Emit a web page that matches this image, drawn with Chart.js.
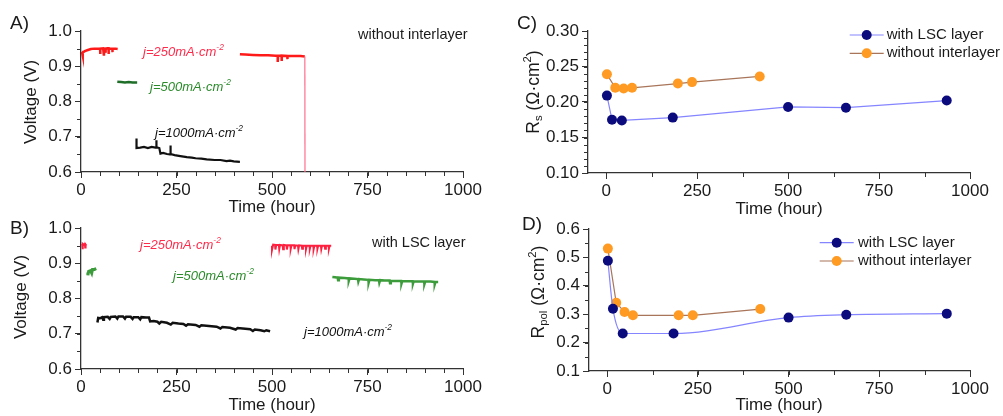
<!DOCTYPE html>
<html lang="en">
<head>
<meta charset="UTF-8">
<title>Voltage and resistance vs time</title>
<script src="https://cdn.jsdelivr.net/npm/chart.js"></script>
<style>
    body { margin: 0; background: #fff; }
    .wrap { position: relative; width: 1003px; height: 416px; overflow: hidden; }
    canvas { position: absolute; }
</style>
</head>
<body>
<div class="wrap">
    <canvas id="panelA" width="500" height="222" style="left:0;top:0"></canvas>
    <canvas id="panelB" width="500" height="211" style="left:0;top:205px"></canvas>
    <canvas id="panelC" width="503" height="222" style="left:500px;top:0"></canvas>
    <canvas id="panelD" width="503" height="211" style="left:500px;top:205px"></canvas>
</div>
<script>
// ---- data: [time (hour), value] ----
// A) without interlayer
const aRed250a = [[0,0.935],[3,0.938],[4,0.93],[5,0.939],[10,0.943],[18,0.946],[26,0.949],[35,0.950],[45,0.950],
    [50,0.950],[50,0.935],[51,0.950],[58,0.951],[60,0.951],[60,0.930],[61,0.950],[64,0.950],[64,0.938],[65,0.950],
    [70,0.951],[72,0.951],[72,0.935],[73,0.950],[80,0.950],[82,0.950],[82,0.940],[83,0.950],[90,0.950],[96,0.949]];
const aRed250b = [[416,0.934],[430,0.933],[450,0.932],[470,0.931],[490,0.931],[510,0.930],[515,0.930],[515,0.912],
    [516,0.930],[525,0.930],[525,0.915],[526,0.930],[540,0.929],[540,0.920],[541,0.929],[560,0.929],[575,0.929],[586,0.928]];
const aRedDrop = [[586,0.928],[587,0.0]];
const aGreen500 = [[95,0.856],[105,0.855],[115,0.854],[125,0.855],[135,0.854],[147,0.854]];
const aBlack1000 = [[144,0.668],[145,0.668],[145,0.695],[146,0.668],[155,0.669],[165,0.671],[175,0.668],[185,0.671],
    [195,0.669],[197,0.669],[197,0.690],[198,0.670],[205,0.668],[208,0.652],[215,0.654],[225,0.651],[233,0.650],
    [234,0.675],[235,0.651],[245,0.648],[260,0.645],[277,0.642],[290,0.641],[300,0.639],[315,0.638],[329,0.636],
    [350,0.634],[365,0.634],[381,0.631],[390,0.632],[400,0.630],[416,0.629]];

// B) with LSC layer
const bRed250a = [[3,0.955],[4,0.940],[5,0.955],[8,0.952],[10,0.957],[11,0.945],[12,0.953],[14,0.950]];
const bGreen500a = [[18,0.874],[18,0.866],[20,0.877],[25,0.879],[28,0.872],[30,0.882],[35,0.882],[38,0.884],[40,0.885]];
const bBlack1000 = [[43,0.732],[45,0.745],[50,0.744],[55,0.747],[58,0.740],[60,0.747],[70,0.748],[75,0.742],[78,0.748],
    [90,0.749],[95,0.743],[98,0.749],[110,0.749],[115,0.743],[118,0.748],[130,0.748],[135,0.742],[138,0.747],
    [150,0.747],[155,0.741],[158,0.747],[170,0.746],[178,0.746],[181,0.735],[190,0.736],[200,0.734],[205,0.729],
    [210,0.734],[225,0.731],[235,0.726],[240,0.731],[255,0.729],[268,0.728],[275,0.723],[280,0.727],[300,0.725],
    [310,0.720],[315,0.724],[335,0.722],[355,0.720],[365,0.715],[370,0.719],[390,0.717],[405,0.712],[410,0.716],
    [430,0.714],[443,0.713],[450,0.708],[455,0.712],[470,0.710],[480,0.707],[485,0.710],[495,0.707]];
const bRed250b = [[500,0.950],[500,0.938],[503,0.953],[508,0.952],[509,0.939],[511,0.952],[518,0.952],[519,0.940],
    [521,0.952],[528,0.951],[529,0.940],[531,0.952],[538,0.951],[539,0.939],[541,0.951],[548,0.951],[549,0.941],
    [551,0.951],[558,0.951],[559,0.940],[561,0.951],[568,0.950],[569,0.940],[571,0.951],[578,0.950],[579,0.941],
    [581,0.950],[588,0.950],[589,0.940],[591,0.950],[598,0.950],[599,0.941],[601,0.950],[608,0.950],[609,0.940],
    [611,0.950],[618,0.950],[619,0.941],[621,0.950],[628,0.950],[629,0.940],[631,0.950],[638,0.950],[639,0.941],
    [641,0.950],[648,0.950],[649,0.941],[651,0.950],[655,0.950]];
const bGreen500b = [[658,0.861],[665,0.860],[672,0.859],[673,0.852],[675,0.859],[690,0.858],[700,0.857],[701,0.850],
    [703,0.857],[715,0.856],[725,0.855],[726,0.848],[728,0.855],[740,0.854],[752,0.853],[753,0.845],[755,0.853],
    [770,0.852],[780,0.852],[781,0.845],[783,0.852],[795,0.851],[808,0.851],[809,0.843],[811,0.850],[825,0.850],
    [838,0.850],[839,0.842],[841,0.849],[855,0.849],[868,0.849],[869,0.842],[871,0.849],[885,0.848],[898,0.848],
    [899,0.841],[901,0.848],[915,0.848],[925,0.847],[926,0.840],[928,0.847],[935,0.847]];

// C) and D) impedance fits
const lscTime = [2, 16, 43, 183, 500, 659, 936];
const lscRs   = [0.209, 0.175, 0.174, 0.178, 0.193, 0.192, 0.202];
const lscRpol = [0.488, 0.319, 0.232, 0.232, 0.288, 0.298, 0.302];
const noTime  = [2, 25, 48, 71, 197, 236, 422];
const noRs    = [0.239, 0.220, 0.219, 0.220, 0.226, 0.228, 0.236];
const noRpol  = [0.531, 0.340, 0.308, 0.296, 0.296, 0.296, 0.318];

const xTicksAB = [0, 250, 500, 750, 1000];
const xTicksCD = [0, 250, 500, 750, 1000];

const FAM = '"Liberation Sans", Arial, sans-serif';
const pairs = arr => arr.map(p => ({x: p[0], y: p[1]}));
const zip = (xs, ys) => xs.map((x, i) => ({x: x, y: ys[i]}));
const plain = s => [{t: s}];
const jLabel = n => [{t: 'j=' + n + 'mA·cm'}, {t: '-2', s: 'sup'}];

function drawRich(ctx, it) {
    const st = it.style || 'normal';
    const fontFor = p => st + ' ' + (p.s ? it.size * 0.65 : it.size) + 'px ' + FAM;
    ctx.save();
    ctx.fillStyle = it.color || '#1a1a1a';
    ctx.textBaseline = 'middle';
    ctx.textAlign = 'left';
    let w = 0;
    it.parts.forEach(p => { ctx.font = fontFor(p); w += ctx.measureText(p.t).width; });
    ctx.translate(it.x, it.y);
    if (it.rot) ctx.rotate(-Math.PI / 2);
    let x = it.align === 'center' ? -w / 2 : 0;
    it.parts.forEach(p => {
        ctx.font = fontFor(p);
        const dy = p.s === 'sup' ? -it.size * 0.35 : (p.s === 'sub' ? it.size * 0.3 : 0);
        ctx.fillText(p.t, x, dy);
        x += ctx.measureText(p.t).width;
    });
    ctx.restore();
}

const decor = {
    id: 'decor',
    afterDraw(chart, args, opts) {
        const ctx = chart.ctx;
        const area = chart.chartArea;
        // minor ticks
        ctx.save();
        ctx.strokeStyle = '#333';
        ctx.lineWidth = 1;
        [['x', opts.minorX], ['y', opts.minorY]].forEach(([k, step]) => {
            const sc = chart.scales[k];
            const start = Math.ceil(sc.min / step - 1e-9);
            for (let i = start; i * step <= sc.max + 1e-9; i++) {
                const p = Math.round(sc.getPixelForValue(i * step)) + 0.5;
                ctx.beginPath();
                if (k === 'x') { ctx.moveTo(p, area.bottom); ctx.lineTo(p, area.bottom + 4); }
                else { ctx.moveTo(area.left - 4, p); ctx.lineTo(area.left, p); }
                ctx.stroke();
            }
        });
        ctx.restore();
        (opts.texts || []).forEach(t => drawRich(ctx, t));
        // legend
        if (opts.legend) {
            const lg = opts.legend;
            chart.data.datasets.forEach((ds, i) => {
                const y = lg.y + i * lg.dy;
                ctx.save();
                ctx.strokeStyle = ds.borderColor;
                ctx.lineWidth = ds.borderWidth;
                ctx.beginPath();
                ctx.moveTo(lg.x - lg.half, y);
                ctx.lineTo(lg.x + lg.half, y);
                ctx.stroke();
                ctx.fillStyle = ds.pointBackgroundColor;
                ctx.beginPath();
                ctx.arc(lg.x, y, ds.pointRadius, 0, Math.PI * 2);
                ctx.fill();
                ctx.restore();
                drawRich(ctx, {parts: plain(ds.label), x: lg.textX, y: y, size: 15});
            });
        }
    }
};

function makePanel(id, p) {
    const tickFont = {family: FAM, size: 17};
    new Chart(document.getElementById(id), {
        type: 'scatter',
        data: {datasets: p.datasets},
        options: {
            responsive: false,
            animation: false,
            devicePixelRatio: 1,
            layout: {padding: {top: p.padTop, right: p.padRight, bottom: 0, left: 0}},
            plugins: {legend: {display: false}, tooltip: {enabled: false}, decor: p.decor},
            scales: {
                x: {
                    type: 'linear', min: p.xMin, max: 1000,
                    afterBuildTicks: s => { s.ticks = p.xTicks.map(v => ({value: v})); },
                    afterFit: s => { s.height = p.xHeight; },
                    border: {color: '#333', width: 1.3},
                    grid: {drawOnChartArea: false, drawTicks: true, tickLength: 6, color: '#333'},
                    ticks: {font: tickFont, color: '#1a1a1a', padding: 2, maxRotation: 0,
                        callback: v => String(v)}
                },
                y: {
                    type: 'linear', min: p.yMin, max: p.yMax,
                    afterFit: s => { s.width = p.yWidth; },
                    border: {color: '#333', width: 1.3},
                    grid: {drawOnChartArea: false, drawTicks: true, tickLength: 6, color: '#333'},
                    ticks: {font: tickFont, color: '#1a1a1a', padding: 3, stepSize: p.yStep,
                        callback: v => v.toFixed(p.yDec)}
                }
            }
        },
        plugins: [decor]
    });
}

function trace(data, color, width) {
    return {data: pairs(data), showLine: true, pointRadius: 0, borderColor: color, borderWidth: width || 2, tension: 0};
}
function fitSeries(label, xs, ys, dot, line, smooth) {
    return {label: label, data: zip(xs, ys), showLine: true, pointRadius: 5, pointBackgroundColor: dot,
        pointBorderColor: dot, pointBorderWidth: 0, borderColor: line, borderWidth: 1.2,
        cubicInterpolationMode: smooth ? 'monotone' : 'default', tension: smooth ? 0.4 : 0};
}

makePanel('panelA', {
    xMin: 0, xTicks: xTicksAB, yMin: 0.6, yMax: 1.0, yStep: 0.1, yDec: 1,
    yWidth: 81, xHeight: 50, padTop: 31, padRight: 37,
    datasets: [
        trace(aRedDrop, '#ff6f8c', 1.2),
        trace(aRed250a, '#ff1a1a', 2.5),
        trace(aRed250b, '#ff1a1a', 2.5),
        trace(aGreen500, '#1e6e28', 2.5),
        trace(aBlack1000, '#111111', 2.2)
    ],
    decor: {
        minorX: 50, minorY: 0.05,
        texts: [
            {parts: plain('A)'), x: 10, y: 24, size: 19},
            {parts: plain('Voltage (V)'), x: 31, y: 102, size: 17, rot: true, align: 'center'},
            {parts: plain('Time (hour)'), x: 272, y: 207, size: 17, align: 'center'},
            {parts: plain('without interlayer'), x: 358, y: 35, size: 14.5},
            {parts: jLabel(250), x: 143, y: 52, size: 13, style: 'italic', color: '#ff2a4a'},
            {parts: jLabel(500), x: 150, y: 87, size: 13, style: 'italic', color: '#2a8a2a'},
            {parts: jLabel(1000), x: 155, y: 133, size: 13, style: 'italic', color: '#111'}
        ]
    }
});

makePanel('panelB', {
    xMin: 0, xTicks: xTicksAB, yMin: 0.6, yMax: 1.0, yStep: 0.1, yDec: 1,
    yWidth: 81, xHeight: 47, padTop: 23, padRight: 37,
    datasets: [
        trace(bRed250a, '#ff2040', 2),
        trace(bGreen500a, '#3c9c3c', 3),
        trace(bBlack1000, '#111111', 2.5),
        trace(bRed250b, '#ff2040', 2),
        trace(bGreen500b, '#3c9c3c', 2.5)
    ],
    decor: {
        minorX: 50, minorY: 0.05,
        texts: [
            {parts: plain('B)'), x: 10, y: 24, size: 19},
            {parts: plain('Voltage (V)'), x: 21, y: 92, size: 17, rot: true, align: 'center'},
            {parts: plain('Time (hour)'), x: 272, y: 200, size: 17, align: 'center'},
            {parts: plain('with LSC layer'), x: 372, y: 38, size: 14.5},
            {parts: jLabel(250), x: 140, y: 40, size: 13, style: 'italic', color: '#ff2a4a'},
            {parts: jLabel(500), x: 173, y: 71, size: 13, style: 'italic', color: '#2a8a2a'},
            {parts: jLabel(1000), x: 304, y: 127, size: 13, style: 'italic', color: '#111'}
        ]
    }
});

makePanel('panelC', {
    xMin: -50, xTicks: xTicksCD, yMin: 0.10, yMax: 0.30, yStep: 0.05, yDec: 2,
    yWidth: 88, xHeight: 49, padTop: 31, padRight: 33,
    datasets: [
        fitSeries('with LSC layer', lscTime, lscRs, '#0b0b7d', '#8585ff', false),
        fitSeries('without interlayer', noTime, noRs, '#ff9a22', '#a8755a', false)
    ],
    decor: {
        minorX: 125, minorY: 0.01,
        texts: [
            {parts: plain('C)'), x: 17, y: 24, size: 19},
            {parts: [{t: 'R'}, {t: 's', s: 'sub'}, {t: ' (Ω·cm'}, {t: '2', s: 'sup'}, {t: ')'}],
                x: 34, y: 92, size: 17.5, rot: true, align: 'center'},
            {parts: plain('Time (hour)'), x: 279, y: 209, size: 17, align: 'center'}
        ],
        legend: {x: 366.7, y: 35, dy: 18.3, half: 17, textX: 386.7}
    }
});

makePanel('panelD', {
    xMin: -50, xTicks: xTicksCD, yMin: 0.1, yMax: 0.6, yStep: 0.1, yDec: 1,
    yWidth: 89, xHeight: 45, padTop: 24, padRight: 33,
    datasets: [
        fitSeries('with LSC layer', lscTime, lscRpol, '#0b0b7d', '#8585ff', true),
        fitSeries('without interlayer', noTime, noRpol, '#ff9a22', '#a8755a', false)
    ],
    decor: {
        minorX: 125, minorY: 0.05,
        texts: [
            {parts: plain('D)'), x: 22, y: 20, size: 19},
            {parts: [{t: 'R'}, {t: 'pol', s: 'sub'}, {t: ' (Ω·cm'}, {t: '2', s: 'sup'}, {t: ')'}],
                x: 39, y: 87, size: 17.5, rot: true, align: 'center'},
            {parts: plain('Time (hour)'), x: 279, y: 200, size: 17, align: 'center'}
        ],
        legend: {x: 336.7, y: 37.7, dy: 18.3, half: 17, textX: 358}
    }
});
</script>
</body>
</html>
